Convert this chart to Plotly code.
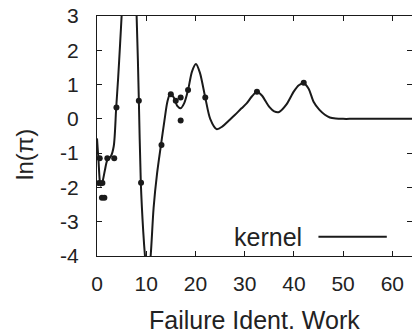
import plotly.graph_objects as go

# kernel curve
curve_x = [0.0, 0.3, 0.6, 0.8, 1.1, 1.6, 2.1, 2.8, 3.4, 3.9, 4.3, 4.7, 5.0, 5.5, 6.5, 7.5, 8.05,
           8.5, 8.9, 9.4, 9.75, 10.3, 10.9, 11.5, 12.2, 13.0, 13.7, 14.3, 14.9, 15.6, 16.3, 17.0,
           17.7, 18.5, 19.3, 20.1, 20.9, 22.0, 23.0, 24.3, 25.5, 26.8, 28.0, 29.3, 30.4, 31.5,
           32.5, 33.5, 35.0, 36.0, 37.0, 38.5, 40.0, 41.0, 42.0, 43.0, 44.0, 45.2, 46.3, 47.3,
           48.5, 50.0, 52.0, 56.0, 60.0, 64.0]
curve_y = [-0.57, -1.2, -1.85, -1.95, -1.85, -1.5, -1.2, -1.1, -0.8, 0.33, 1.2, 2.2, 3.0, 4.5,
           5.5, 4.5, 3.0, 0.55, -1.85, -3.3, -4.0, -4.8, -4.0, -2.6, -1.6, -0.76, -0.05, 0.5,
           0.75, 0.62, 0.38, 0.31, 0.45, 0.84, 1.38, 1.6, 1.35, 0.62, 0.0, -0.30, -0.22, -0.05,
           0.11, 0.3, 0.45, 0.66, 0.79, 0.68, 0.35, 0.22, 0.20, 0.42, 0.8, 0.98, 1.04, 0.88,
           0.5, 0.26, 0.12, 0.04, 0.01, 0.0, 0.0, 0.0, 0.0, 0.0]

# observed points
pts_x = [0.55, 0.4, 1.1, 1.0, 1.5, 2.1, 3.5, 3.95, 8.5, 8.95, 13.1, 15.0, 16.0, 17.0, 17.0,
         18.5, 22.0, 32.5, 42.0]
pts_y = [-1.15, -1.87, -1.87, -2.3, -2.3, -1.15, -1.15, 0.33, 0.53, -1.86, -0.76, 0.72, 0.53,
         0.62, -0.05, 0.84, 0.62, 0.79, 1.05]

x_ticks = [0, 10, 20, 30, 40, 50, 60]
y_ticks = [-4, -3, -2, -1, 0, 1, 2, 3]

ink = "#1a1a1a"
fig = go.Figure()
fig.add_trace(go.Scatter(x=curve_x, y=curve_y, mode="lines",
                         line=dict(color=ink, width=2, shape="spline", smoothing=0.8),
                         name="kernel", showlegend=False))
fig.add_trace(go.Scatter(x=pts_x, y=pts_y, mode="markers",
                         marker=dict(color=ink, size=6), showlegend=False))

axis_common = dict(showline=True, linecolor=ink, linewidth=1, mirror="allticks",
                   ticks="inside", ticklen=5, tickcolor=ink, showgrid=False, zeroline=False,
                   tickfont=dict(family="Liberation Sans, Arial", size=21, color="#222"))
fig.update_xaxes(range=[0, 64], tickvals=x_ticks, ticktext=[str(v) for v in x_ticks],
                 ticklabelstandoff=9, **axis_common)
fig.update_yaxes(range=[-4, 3], tickvals=y_ticks, ticktext=[str(v) for v in y_ticks],
                 ticklabelstandoff=13, **axis_common)

fig.add_annotation(text="Failure Ident. Work", xref="paper", yref="paper", x=0.5, y=-0.267,
                   xanchor="center", yanchor="middle", showarrow=False,
                   font=dict(family="Liberation Sans, Arial", size=25, color="#222"))
fig.add_annotation(text="ln(π)", xref="paper", yref="paper", x=-0.232, y=0.425,
                   xanchor="center", yanchor="middle", textangle=-90, showarrow=False,
                   font=dict(family="Liberation Sans, Arial", size=24, color="#222"))
# legend text and sample line
fig.add_annotation(text="kernel", xref="paper", yref="paper", x=0.43, y=0.08,
                   xanchor="left", yanchor="middle", showarrow=False,
                   font=dict(family="Liberation Sans, Arial", size=25, color="#222"))
fig.add_shape(type="line", xref="paper", yref="paper", x0=0.703, x1=0.92, y0=0.08, y1=0.08,
              line=dict(color=ink, width=2))

fig.update_layout(width=412, height=333, margin=dict(l=97, r=0, t=16, b=77),
                  paper_bgcolor="white", plot_bgcolor="white", showlegend=False)
fig.write_html("out.html")
